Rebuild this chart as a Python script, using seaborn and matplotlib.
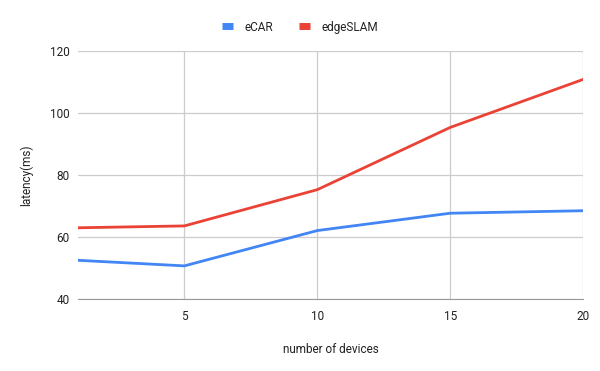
import pandas as pd
import matplotlib.pyplot as plt
import seaborn as sns

# datos
devices = [1, 5, 10, 15, 20]
ecar = [52.5, 50.7, 62.1, 67.7, 68.5]
edgeslam = [63.0, 63.6, 75.3, 95.4, 110.9]
y_ticks = [40, 60, 80, 100, 120]
x_ticks = [5, 10, 15, 20]

df = pd.DataFrame({
    'devices': devices * 2,
    'latency': ecar + edgeslam,
    'serie': ['eCAR'] * len(devices) + ['edgeSLAM'] * len(devices),
})

sns.set_style('white')
plt.rcParams['font.family'] = ['Roboto', 'DejaVu Sans']

fig = plt.figure(figsize=(6, 3.71), dpi=100)
ax = fig.add_axes([0.13, 0.194, 0.842, 0.668])

paleta = {'eCAR': '#4285F4', 'edgeSLAM': '#EA4335'}
sns.lineplot(data=df, x='devices', y='latency', hue='serie', palette=paleta,
             linewidth=2, ax=ax, legend=False)

ax.set_xlim(1, 20)
ax.set_ylim(40, 120)
ax.set_xticks(x_ticks)
ax.set_yticks(y_ticks)
ax.grid(True, color='#cccccc', linewidth=0.9)
ax.set_axisbelow(True)
for s in ['top', 'left', 'right']:
    ax.spines[s].set_visible(False)
ax.spines['bottom'].set_color('#999999')
ax.tick_params(axis='both', length=0, labelsize=8.5, labelcolor='#222222')
ax.tick_params(axis='x', pad=8)
ax.tick_params(axis='y', pad=6)

ax.set_xlabel('number of devices', fontsize=8.5, color='#222222', labelpad=14)
ax.set_ylabel('latency(ms)', fontsize=8.5, color='#222222', labelpad=12)

# leyenda arriba con marcas rectangulares
handles = [plt.Line2D([], [], color=paleta[k], linewidth=5, solid_capstyle='butt')
           for k in paleta]
fig.legend(handles, list(paleta.keys()), loc='center', bbox_to_anchor=(0.5, 0.927),
           ncol=2, frameon=False, fontsize=8.5, handlelength=0.9, columnspacing=2.2,
           handletextpad=1.0, labelcolor='#222222')

plt.savefig('out.png', dpi=100)
plt.close()
